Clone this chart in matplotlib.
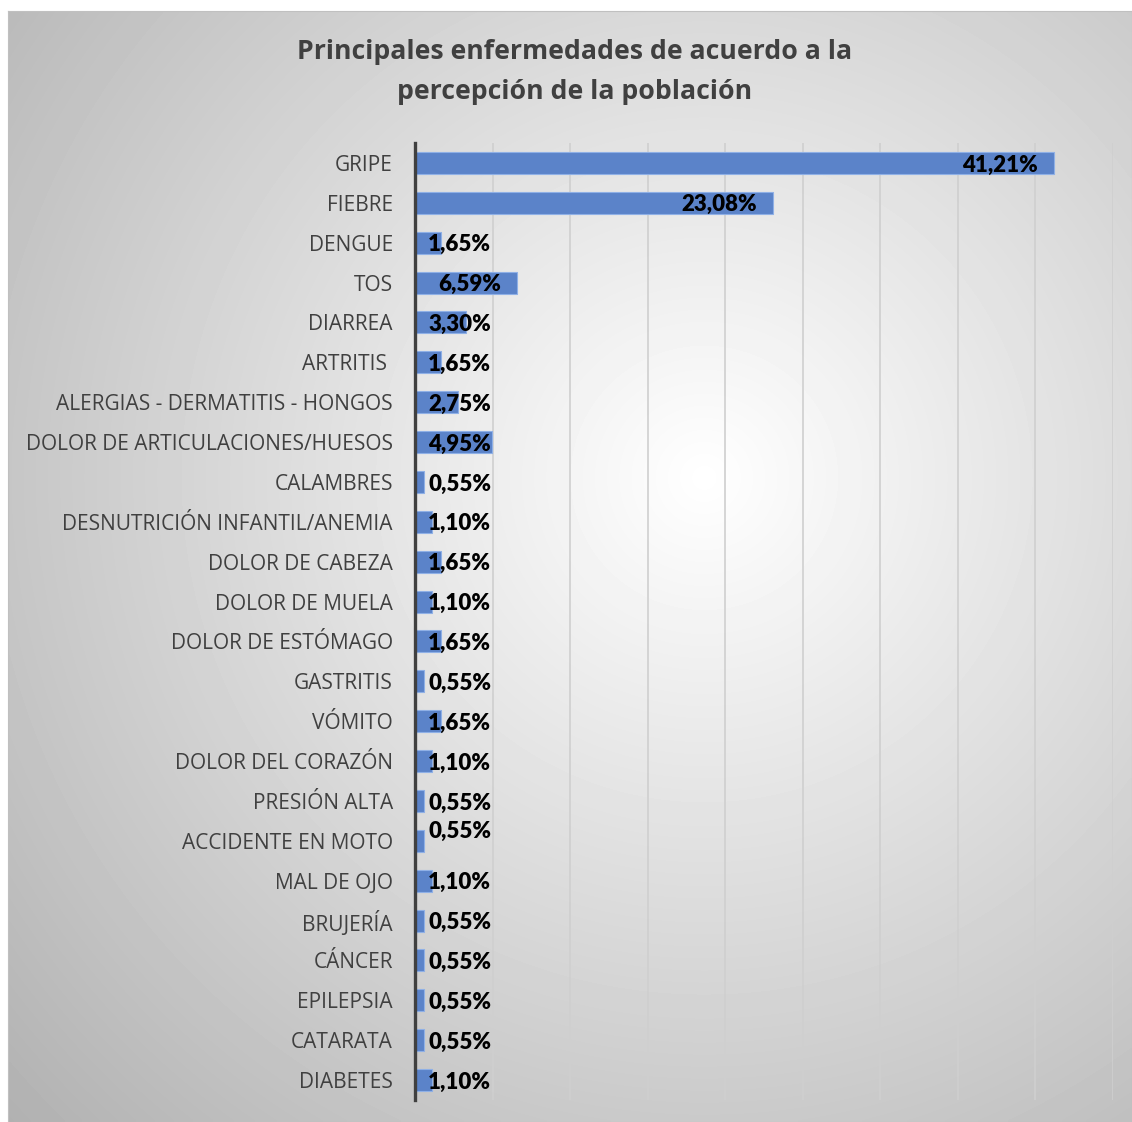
import numpy as np
import matplotlib.pyplot as plt

categorias = ["GRIPE", "FIEBRE", "DENGUE", "TOS", "DIARREA", "ARTRITIS ",
              "ALERGIAS - DERMATITIS - HONGOS", "DOLOR DE ARTICULACIONES/HUESOS",
              "CALAMBRES", "DESNUTRICIÓN INFANTIL/ANEMIA", "DOLOR DE CABEZA",
              "DOLOR DE MUELA", "DOLOR DE ESTÓMAGO", "GASTRITIS", "VÓMITO",
              "DOLOR DEL CORAZÓN", "PRESIÓN ALTA", "ACCIDENTE EN MOTO",
              "MAL DE OJO", "BRUJERÍA", "CÁNCER", "EPILEPSIA", "CATARATA", "DIABETES"]
porcentajes = [41.21, 23.08, 1.65, 6.59, 3.30, 1.65, 2.75, 4.95, 0.55, 1.10,
               1.65, 1.10, 1.65, 0.55, 1.65, 1.10, 0.55, 0.55, 1.10, 0.55,
               0.55, 0.55, 0.55, 1.10]
titulo = "Principales enfermedades de acuerdo a la\npercepción de la población"

fig = plt.figure(figsize=(11.32, 11.22), dpi=100)

# fondo con degradado radial
bg = fig.add_axes([8 / 1132, 0, 1 - 8 / 1132, 1 - 11 / 1122])
yy, xx = np.mgrid[0:1:300j, 0:1:300j]
r = np.sqrt((xx - 0.62) ** 2 + (yy - 0.42) ** 2)
shade = np.clip(1.0 - 0.36 * r, 0, 1)
bg.imshow(shade, cmap="gray", vmin=0, vmax=1, extent=[0, 1, 0, 1],
          aspect="auto", interpolation="bilinear")
bg.set_xticks([])
bg.set_yticks([])
for s in bg.spines.values():
    s.set_color("#c0c0c0")
    s.set_linewidth(0.8)

ax = fig.add_axes([415 / 1132, 1 - 1100 / 1122, (1113 - 415) / 1132, (1100 - 143) / 1122])
ax.patch.set_alpha(0)
y = np.arange(len(categorias))
ax.barh(y, porcentajes, height=0.55, color="#5b83c9", edgecolor="#8fb0e6", linewidth=0.8, zorder=3)
ax.set_ylim(len(categorias) - 0.5, -0.5)
ax.set_xlim(0, 45)
ax.set_xticks(np.arange(0, 46, 5))
ax.set_xticklabels([])
ax.tick_params(axis="x", length=0)
ax.tick_params(axis="y", length=0, pad=16)
ax.grid(axis="x", color="#cfcfcf", linewidth=1.2, zorder=0)
ax.set_yticks(y)
ax.set_yticklabels(categorias, fontsize=15, color="#404040", family="Open Sans")
for lado in ["top", "right", "bottom"]:
    ax.spines[lado].set_visible(False)
ax.spines["left"].set_color("#404040")
ax.spines["left"].set_linewidth(2.4)
ax.spines["left"].set_zorder(4)

for i, v in enumerate(porcentajes):
    xpos = max(v - 1.05, 4.9)
    dy = 9 if categorias[i] == "ACCIDENTE EN MOTO" else -2
    ax.annotate(f"{v:.2f}%".replace(".", ","), (xpos, i), xytext=(0, dy),
                textcoords="offset pixels", ha="right", va="center",
                fontsize=16, fontweight="heavy", family="Lato", color="black", zorder=5)

fig.text(575 / 1132, 1 - 72 / 1122, titulo, ha="center", va="center", fontsize=19.2,
         fontweight="bold", color="#404040", family="Open Sans", linespacing=1.68)

fig.savefig("out.png", dpi=100)
